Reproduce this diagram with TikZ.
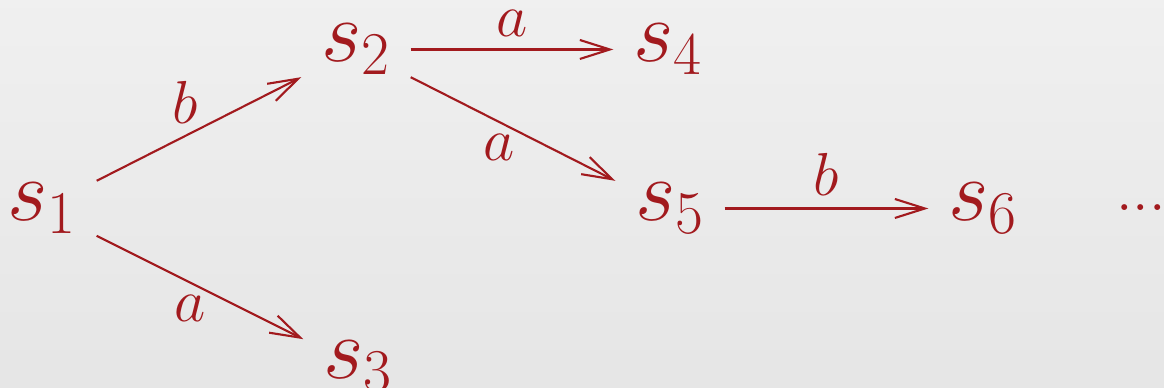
\documentclass[tikz,border=0pt]{standalone}
\usepackage{tikz}
\usetikzlibrary{arrows.meta}
\DeclareMathSizes{25}{25}{16}{12}
\definecolor{sred}{RGB}{162,26,30}

\begin{document}
\begin{tikzpicture}[
      font=\fontsize{25}{30}\selectfont,
      st/.style={inner xsep=0.19cm, inner ysep=0.05cm, text=sred},
      lb/.style={font=\fontsize{16}{19}\selectfont, text=sred, pos=0.45},
      a/.style={-{Straight Barb[length=0.3cm,width=0.19cm]}, draw=sred,
                line width=0.6pt},
    ]
    % background
    \useasboundingbox (0,0) rectangle (11.64,3.88);
    \shade[top color=black!6, bottom color=black!10]
      (0,0) rectangle (11.64,3.88);
    % states
    \node[st] (s1) at (0.42, 1.795) {$s_1$};
    \node[st] (s2) at (3.56, 3.385) {$s_2$};
    \node[st] (s3) at (3.58, 0.215) {$s_3$};
    \node[st] (s4) at (6.68, 3.385) {$s_4$};
    \node[st] (s5) at (6.70, 1.795) {$s_5$};
    \node[st] (s6) at (9.83, 1.795) {$s_6$};
    \node[st, anchor=base, font=\fontsize{16}{19}\selectfont] (more) at (11.41, 1.77) {$...$};

    \draw[a] (s1) -- node[lb, above, pos=0.43]{$b$} (s2);
    \draw[a] (s1) -- node[lb, below]{$a$} (s3);
    \draw[a] (s2) -- node[lb, above, pos=0.5]{$a$} (s4);
    \draw[a] (s2) -- node[lb, below, pos=0.43]{$a$} (s5);
    \draw[a] (s5) -- node[lb, above, pos=0.5]{$b$} (s6);
  \end{tikzpicture}
\end{document}
